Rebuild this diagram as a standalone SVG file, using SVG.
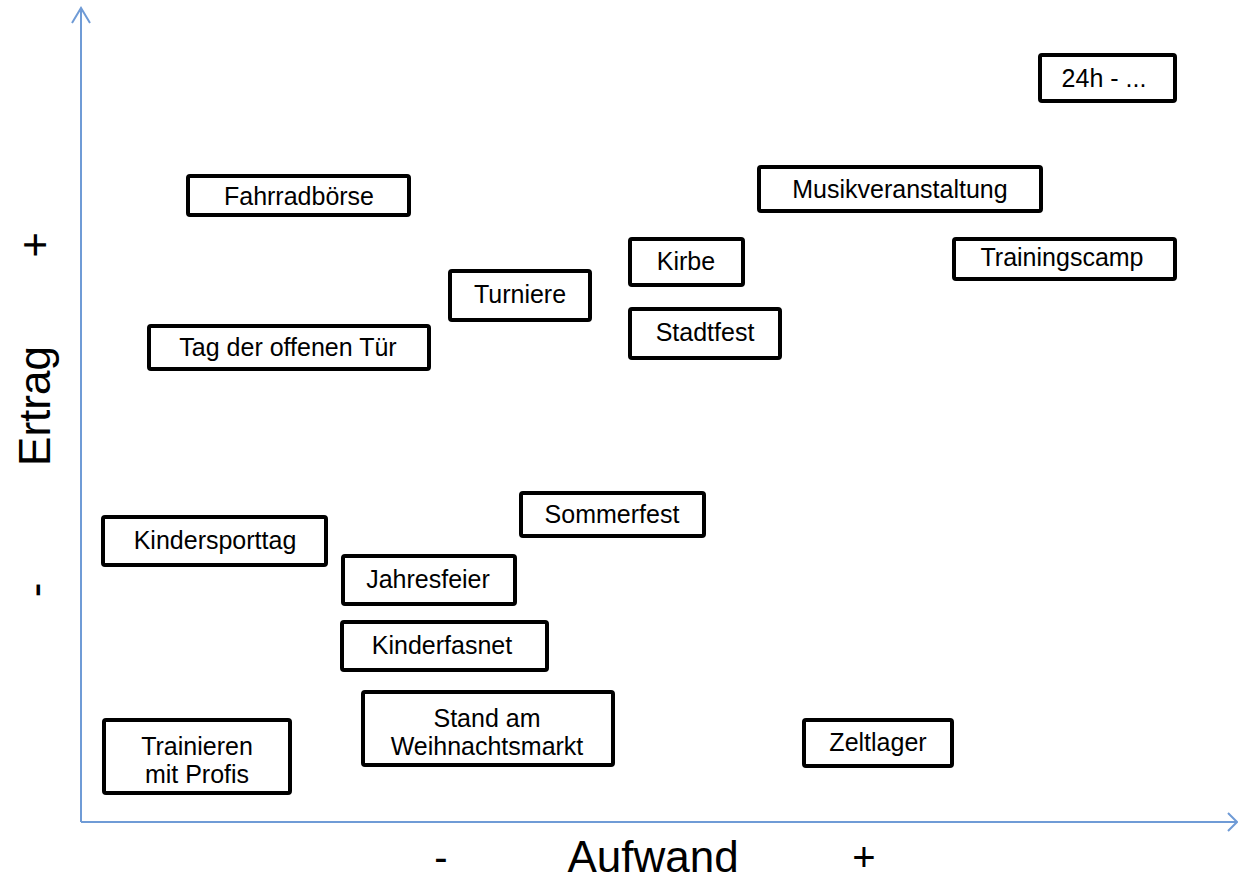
<svg xmlns="http://www.w3.org/2000/svg" width="1238" height="880" viewBox="0 0 1238 880">
<style>
.box{fill:#fff;stroke:#000;stroke-width:4}
.t{font-family:"Liberation Sans",Arial,sans-serif;font-size:25px;fill:#000;text-anchor:middle}
.ax{font-family:"Liberation Sans",Arial,sans-serif;font-size:44px;fill:#000;text-anchor:middle}
.pm{font-family:"Liberation Sans",Arial,sans-serif;font-size:40px;fill:#000;text-anchor:middle}
.axis{fill:none;stroke:#6f9bd6;stroke-width:2}
</style>
<rect width="1238" height="880" fill="#fff"/>
<g id="connectors">
<path class="axis" d="M81,822 V9 M72,23 L81,8 L90,23"/>
<path class="axis" d="M81,822 H1236 M1228,813 L1237,822 L1228,831"/>
</g>
<g id="labels">
<text class="ax" transform="translate(50,245) rotate(-90)">+</text>
<text class="ax" transform="translate(50,406) rotate(-90)">Ertrag</text>
<text class="ax" transform="translate(50,590) rotate(-90)">-</text>
<text class="pm" x="441" y="871">-</text>
<text class="ax" x="653" y="872">Aufwand</text>
<text class="pm" x="864" y="871">+</text>
</g>
<g id="n24h"><rect class="box" x="1040" y="55" width="135" height="46" rx="2"/><text class="t" x="1104" y="87">24h - ...</text></g>
<g id="fahrradboerse"><rect class="box" x="188" y="176" width="221" height="39" rx="2"/><text class="t" x="299" y="205">Fahrradbörse</text></g>
<g id="musikveranstaltung"><rect class="box" x="759" y="167" width="282" height="44" rx="2"/><text class="t" x="900" y="198">Musikveranstaltung</text></g>
<g id="kirbe"><rect class="box" x="630" y="239" width="113" height="46" rx="2"/><text class="t" x="686" y="270">Kirbe</text></g>
<g id="trainingscamp"><rect class="box" x="954" y="239" width="221" height="40" rx="2"/><text class="t" x="1062" y="266">Trainingscamp</text></g>
<g id="turniere"><rect class="box" x="450" y="271" width="140" height="49" rx="2"/><text class="t" x="520" y="303">Turniere</text></g>
<g id="stadtfest"><rect class="box" x="630" y="309" width="150" height="49" rx="2"/><text class="t" x="705" y="341">Stadtfest</text></g>
<g id="tagderoffenentuer"><rect class="box" x="149" y="326" width="280" height="43" rx="2"/><text class="t" x="288" y="356">Tag der offenen Tür</text></g>
<g id="sommerfest"><rect class="box" x="521" y="493" width="183" height="43" rx="2"/><text class="t" x="612" y="523">Sommerfest</text></g>
<g id="kindersporttag"><rect class="box" x="103" y="517" width="223" height="48" rx="2"/><text class="t" x="215" y="549">Kindersporttag</text></g>
<g id="jahresfeier"><rect class="box" x="343" y="556" width="172" height="48" rx="2"/><text class="t" x="428" y="588">Jahresfeier</text></g>
<g id="kinderfasnet"><rect class="box" x="342" y="622" width="205" height="48" rx="2"/><text class="t" x="442" y="654">Kinderfasnet</text></g>
<g id="standamweihnachtsmarkt"><rect class="box" x="363" y="692" width="250" height="73" rx="2"/><text class="t" x="487" y="727">Stand am</text><text class="t" x="487" y="755">Weihnachtsmarkt</text></g>
<g id="trainierenmitprofis"><rect class="box" x="104" y="720" width="186" height="73" rx="2"/><text class="t" x="197" y="755">Trainieren</text><text class="t" x="197" y="783">mit Profis</text></g>
<g id="zeltlager"><rect class="box" x="804" y="720" width="148" height="46" rx="2"/><text class="t" x="878" y="751">Zeltlager</text></g>
</svg>
